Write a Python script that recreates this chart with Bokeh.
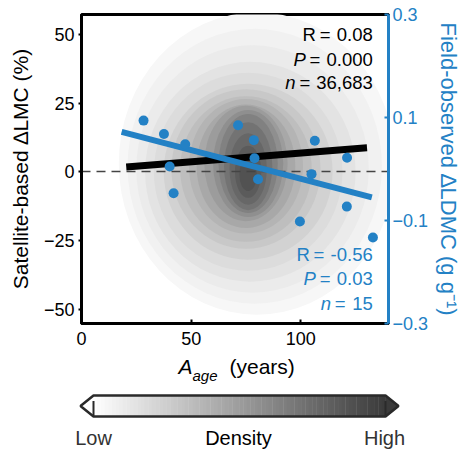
from bokeh.plotting import figure
from bokeh.models import Range1d, LinearAxis, FixedTicker, Label
from bokeh.embed import file_html
from bokeh.resources import INLINE
from bokeh.core.properties import value

FONT = "Liberation Sans"
BLUE = "#2381c5"

# ---------------- data ----------------
x_ticks = [0, 50, 100]
left_ticks = [-50, -25, 0, 25, 50]
right_ticks = [-0.3, -0.1, 0.1, 0.3]

# field-observed plots (right axis)
field_age = [28.3, 37.6, 47.3, 40.2, 42.0, 71.4, 78.6, 78.9, 80.5, 106.4, 104.9, 121.1, 121.0, 99.6, 132.9]
field_dldmc = [0.094, 0.068, 0.048, 0.005, -0.047, 0.085, 0.056, 0.021, -0.020, 0.055, -0.010, 0.022, -0.073, -0.102, -0.133]

# regression lines
sat_fit_age = [20.4, 130.2]
sat_fit_dlmc = [1.7, 8.7]
field_fit_age = [18.3, 132.4]
field_fit_dldmc = [0.072, -0.055]

# satellite point-density cloud, read as nested density levels
cloud_age = [80, 79, 78, 77, 76, 76, 75, 75, 75, 75, 75, 76, 76, 76, 76, 76, 76]
cloud_dlmc = [3, 2, 1, 0, 0, 0, 1, 1, 2, 2, 3, 3, 3, 2, 1, 0, -1]
cloud_age_spread = [126, 116, 106, 96, 86, 77, 68, 60, 52, 45, 38, 32, 27, 22, 17, 12, 8]
cloud_dlmc_spread = [110, 100, 90, 80, 72, 64, 58, 53, 49, 45, 42, 39, 36, 32, 26, 19, 12]
cloud_density = [0.04, 0.07, 0.10, 0.14, 0.18, 0.23, 0.28, 0.33, 0.38, 0.44, 0.50,
                 0.57, 0.64, 0.71, 0.77, 0.83, 0.88]

sat_stats = ["R", "0.08", "P", "0.000", "n", "36,683"]
field_stats = ["R", "-0.56", "P", "0.03", "n", "15"]
density_labels = ["Low", "Density", "High"]


def gray(level):
    v = int(round(255 - level * (255 - 58)))
    return "#%02x%02x%02x" % (v, v, v)


EM = {".": 0.278, ",": 0.278, " ": 0.278, "=": 0.584, "-": 0.333}


def text_px(s, size):
    return sum(EM.get(c, 0.556) for c in s) * size


# ---------------- main plot ----------------
X0, X1 = 0, 140
Y0, Y1 = -55.2, 57.2
p = figure(width=464, height=356, x_range=Range1d(X0, X1), y_range=Range1d(Y0, Y1),
           output_backend="svg", toolbar_location=None,
           min_border_left=81, min_border_right=71, min_border_top=14, min_border_bottom=33)
p.extra_y_ranges = {"right": Range1d(-0.3, 0.3)}
p.grid.grid_line_color = None
p.outline_line_color = "black"
p.outline_line_width = 3
p.background_fill_color = "white"

FW = 312.0
px_per_x = FW / (X1 - X0)

# density cloud
for i in range(len(cloud_density)):
    p.ellipse(x=[cloud_age[i]], y=[cloud_dlmc[i]], width=[cloud_age_spread[i]],
              height=[cloud_dlmc_spread[i]], fill_color=gray(cloud_density[i]),
              line_color=None)

p.hspan(y=[0], line_color="#444444", line_width=1.5, line_dash="9 6")

p.line(sat_fit_age, sat_fit_dlmc, line_color="black", line_width=7)
p.line(field_fit_age, field_fit_dldmc, line_color=BLUE, line_width=6, y_range_name="right")
p.scatter(field_age, field_dldmc, size=10, fill_color=BLUE, line_color=None, y_range_name="right")

# axes
xa = p.xaxis[0]
xa.ticker = FixedTicker(ticks=x_ticks)
xa.axis_line_width = 3
xa.major_tick_in = 4
xa.major_tick_out = 0
xa.major_tick_line_width = 2
xa.minor_tick_line_color = None
xa.major_label_standoff = 8
xa.major_label_text_font = FONT
xa.major_label_text_font_size = "18px"
xa.major_label_text_color = "black"

ya = p.yaxis[0]
ya.ticker = FixedTicker(ticks=left_ticks)
ya.axis_line_width = 3
ya.major_tick_in = 0
ya.major_tick_out = 3
ya.major_tick_line_width = 2
ya.minor_tick_line_color = None
ya.major_label_standoff = 4
ya.major_label_text_font = FONT
ya.major_label_text_font_size = "18px"
ya.major_label_text_color = "black"
ya.axis_label = "Satellite-based \u2206LMC (%)"
ya.axis_label_text_font = FONT
ya.axis_label_text_font_style = "normal"
ya.axis_label_text_font_size = "21px"
ya.axis_label_text_color = "black"
ya.axis_label_standoff = 9

ra = LinearAxis(y_range_name="right", ticker=FixedTicker(ticks=right_ticks))
ra.axis_line_color = BLUE
ra.axis_line_width = 3
ra.major_tick_line_color = BLUE
ra.major_tick_line_width = 2
ra.major_tick_in = 4
ra.major_tick_out = 0
ra.minor_tick_line_color = None
ra.major_label_standoff = 4
ra.major_label_text_font = FONT
ra.major_label_text_font_size = "18px"
ra.major_label_text_color = BLUE
ra.axis_label = "Field-observed \u2206LDMC (g g\u207b\u00b9)"
ra.axis_label_text_font = FONT
ra.axis_label_text_font_style = "normal"
ra.axis_label_text_font_size = "22px"
ra.axis_label_text_color = BLUE
ra.axis_label_standoff = 5
p.add_layout(ra, "right")

# statistics text: letter, '=', value laid out right to left
STAT_SIZE = 18.5
x_right = X0 + (377 - 81) / px_per_x


def lab(x, y, text, color, italic=False):
    p.add_layout(Label(x=x, y=y, text=text, text_align="right",
                       text_baseline="alphabetic", text_font=FONT,
                       text_font_style="italic" if italic else "normal",
                       text_font_size="%gpx" % STAT_SIZE, text_color=color))


def stat_block(vals, ys, color):
    for k in range(3):
        letter, num = vals[2 * k], vals[2 * k + 1]
        yy = ys[k]
        lab(x_right, yy, num, color)
        x_eq = x_right - (text_px(num, STAT_SIZE) + 7) / px_per_x
        lab(x_eq, yy, "=", color)
        x_let = x_eq - (text_px("=", STAT_SIZE) + 4) / px_per_x
        lab(x_let, yy, letter, color, italic=(letter != "R"))


stat_block(sat_stats, [50.0, 41.0, 32.3], "black")
stat_block(field_stats, [-30.0, -39.0, -47.8], BLUE)

# panel letter (cropped at top)
p.add_layout(Label(x=X0 - 61 / px_per_x, y=60.5, text="d", text_font=FONT,
                   text_font_style="bold", text_font_size="28px",
                   text_baseline="alphabetic", text_color="black"))

# ---------------- x label + colour bar ----------------
cb = figure(width=464, height=94, x_range=Range1d(0, 464), y_range=Range1d(94, 0),
            output_backend="svg", toolbar_location=None,
            x_axis_location=None, y_axis_location=None, min_border=0)
cb.outline_line_color = None
cb.grid.grid_line_color = None

cb.text(x=[178], y=[10], text=["A"], text_font=value(FONT), text_font_style="italic",
        text_font_size="21px", text_baseline="alphabetic", text_color="black")
cb.text(x=[192], y=[19], text=["age"], text_font=value(FONT), text_font_style="italic",
        text_font_size="15px", text_baseline="alphabetic", text_color="black")
cb.text(x=[229], y=[10], text=["(years)"], text_font=value(FONT),
        text_font_size="21px", text_baseline="alphabetic", text_color="black")

BL, BR, BT, BB, TL, TR = 93, 385, 39, 60, 80, 398
BM = (BT + BB) / 2
n = 80
step = (BR - BL) / n
lefts = [BL + i * step for i in range(n)]
rights = [BL + (i + 1) * step + 0.4 for i in range(n)]
cols = [gray((i + 0.5) / n) for i in range(n)]
cb.quad(left=lefts, right=rights, top=[BT] * n, bottom=[BB] * n, fill_color=cols, line_color=None)
cb.patch([BL, TL, BL], [BT, BM, BB], fill_color="white", line_color=None)
cb.patch([BR, TR, BR], [BT, BM, BB], fill_color=gray(1.0), line_color=None)
cb.patch([TL, BL, BR, TR, BR, BL], [BM, BT, BT, BM, BB, BB], fill_color=None,
         line_color="#2a2a2a", line_width=2.5)
cb.segment(x0=[BL, BR], y0=[BM - 5, BM - 5], x1=[BL, BR], y1=[BB, BB],
           line_color="#2a2a2a", line_width=2)

cb.text(x=[93, 238, 384], y=[81, 81, 81], text=density_labels, text_font=value(FONT),
        text_font_size="20px", text_align="center", text_baseline="alphabetic",
        text_color=["#333333", "black", "#333333"])

open("out.html", "w").write(file_html([p, cb], INLINE))
